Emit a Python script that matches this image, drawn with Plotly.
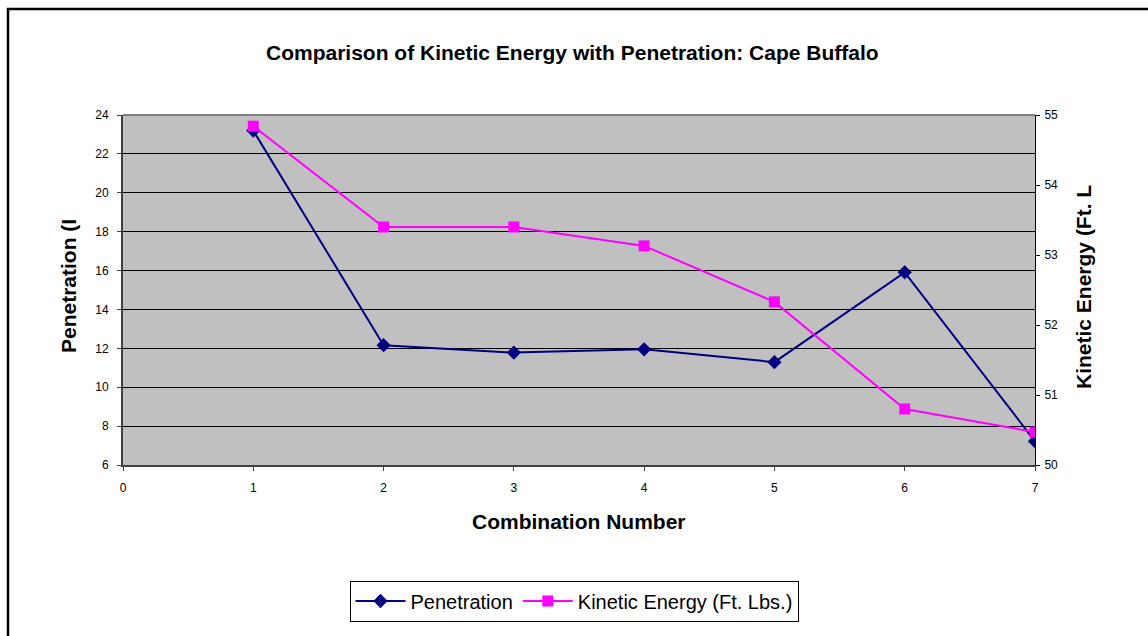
import plotly.graph_objects as go

combination = [1, 2, 3, 4, 5, 6, 7]
penetration = [23.2, 12.16, 11.78, 11.95, 11.29, 15.91, 7.22]
kinetic_energy = [54.84, 53.40, 53.40, 53.13, 52.33, 50.80, 50.47]

title_text = "Comparison of Kinetic Energy with Penetration: Cape Buffalo"
x_title = "Combination Number"
y_left_title = "Penetration (I"
y_right_title = "Kinetic Energy (Ft. L"

FONT = "Liberation Sans, Arial, sans-serif"

fig = go.Figure()
fig.add_trace(go.Scatter(
    x=combination, y=penetration, name="Penetration",
    mode="lines+markers",
    line=dict(color="#000080", width=2),
    marker=dict(symbol="diamond", size=11, color="#000080"),
    yaxis="y"))
fig.add_trace(go.Scatter(
    x=combination, y=kinetic_energy, name="Kinetic Energy (Ft. Lbs.)",
    mode="lines+markers",
    line=dict(color="#FF00FF", width=2),
    marker=dict(symbol="square", size=11, color="#FF00FF"),
    yaxis="y2"))

W, H = 1148, 636
L, R, T, B = 123, 1035, 115, 465
pw, ph = R - L, B - T

def px(xpix):
    return (xpix - L) / pw

def py(ypix):
    return (B - ypix) / ph

fig.update_layout(
    width=W, height=H,
    margin=dict(l=L, r=W - R, t=T, b=H - B, pad=0),
    paper_bgcolor="white",
    plot_bgcolor="#C0C0C0",
    font=dict(family=FONT, size=12, color="black"),
    showlegend=True,
    legend=dict(
        orientation="h", x=px(574), y=py(601), xanchor="center", yanchor="middle",
        bordercolor="black", borderwidth=1, bgcolor="white",
        font=dict(family=FONT, size=20, color="black"),
        itemwidth=50, tracegroupgap=0,
    ),
    xaxis=dict(
        range=[0, 7], dtick=1, tick0=0,
        showgrid=False, zeroline=False,
        showline=True, linecolor="#404040", linewidth=2,
        ticks="outside", ticklen=4, tickcolor="#404040",
        tickfont=dict(size=12), ticklabelstandoff=7,
    ),
    yaxis=dict(
        range=[6, 24], dtick=2,
        showgrid=True, gridcolor="black", gridwidth=1,
        zeroline=False,
        showline=True, linecolor="#404040", linewidth=2,
        ticks="outside", ticklen=4, tickcolor="#404040",
        tickfont=dict(size=12), ticklabelstandoff=6,
    ),
    yaxis2=dict(
        range=[50, 55], dtick=1, overlaying="y", side="right",
        showgrid=False, zeroline=False,
        showline=True, linecolor="black", linewidth=1,
        ticks="outside", ticklen=4, tickcolor="black",
        tickfont=dict(size=12), ticklabelstandoff=2,
    ),
)

# top border of plot area (gray)
fig.add_shape(type="line", xref="paper", yref="paper", x0=0, x1=1, y0=1, y1=1,
              line=dict(color="#808080", width=2))

# outer chart frame (clipped by page edges)
fig.add_shape(type="rect", xref="paper", yref="paper",
              x0=px(8), x1=px(1160), y0=py(660), y1=py(9),
              line=dict(color="black", width=2.5), fillcolor="rgba(0,0,0,0)", layer="above")

def label(text, xp, yp, size, angle=0):
    fig.add_annotation(text="<b>" + text + "</b>", xref="paper", yref="paper",
                       x=px(xp), y=py(yp), xanchor="center", yanchor="middle",
                       showarrow=False, textangle=angle,
                       font=dict(family=FONT, size=size, color="black"))

label(title_text, 572, 52, 21)
label(x_title, 579, 521, 21)
label(y_left_title, 68, 286, 21, -90)
label(y_right_title, 1083, 287, 21, -90)

fig.write_html("out.html")
